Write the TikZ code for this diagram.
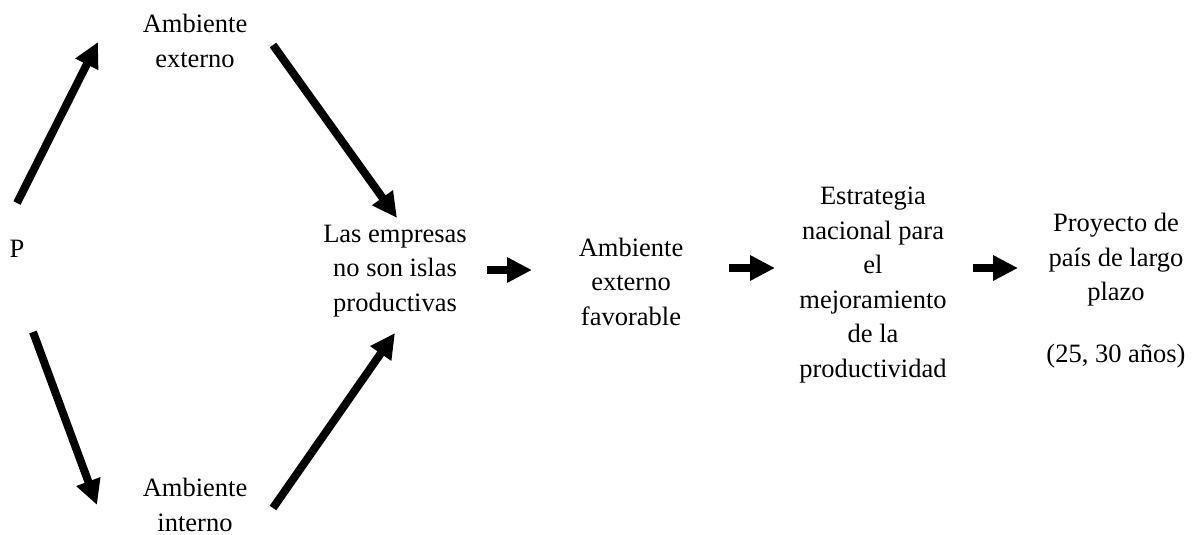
\documentclass[tikz,border=0pt]{standalone}
\usepackage{fontspec}
\setmainfont{Liberation Serif}
\usetikzlibrary{arrows.meta}
\begin{document}
\begin{tikzpicture}[x=1pt,y=-1pt,
  label text/.style={inner sep=0pt, anchor=base, align=center,
    font=\fontsize{26.5}{34.5}\selectfont},
  flow/.style={line width=8pt, -{Triangle[length=25pt,width=24pt]}}]
\useasboundingbox (0,0) rectangle (1196,535);

% text blocks, placed by the baseline of their last line
\node[label text] (P)    at (17,257)  {P};
\node[label text] (ext)  at (195,67)  {Ambiente\\externo};
\node[label text] (int)  at (195,531) {Ambiente\\interno};
\node[label text] (emp)  at (395,311) {Las empresas\\no son islas\\productivas};
\node[label text] (fav)  at (631,325) {Ambiente\\externo\\favorable};
\node[label text] (est)  at (873,377) {Estrategia\\nacional para\\el\\mejoramiento\\de la\\productividad};
\node[label text] (proj) at (1116,362) {Proyecto de\\país de largo\\plazo\\[27pt](25, 30 años)};

% arrow end points
\coordinate (a1s) at (17,203);  \coordinate (a1e) at (98,42);
\coordinate (a2s) at (273,45);  \coordinate (a2e) at (397,218);
\coordinate (a3s) at (33,332);  \coordinate (a3e) at (97,505);
\coordinate (a4s) at (273,508); \coordinate (a4e) at (395,333);
\coordinate (h1s) at (487,270); \coordinate (h1e) at (532,270);
\coordinate (h2s) at (729,268); \coordinate (h2e) at (775,268);
\coordinate (h3s) at (973,268); \coordinate (h3e) at (1018,268);

% arrows
\draw[flow] (a1s) -- (a1e);
\draw[flow] (a2s) -- (a2e);
\draw[flow] (a3s) -- (a3e);
\draw[flow] (a4s) -- (a4e);
\draw[flow] (h1s) -- (h1e);
\draw[flow] (h2s) -- (h2e);
\draw[flow] (h3s) -- (h3e);
\end{tikzpicture}
\end{document}
